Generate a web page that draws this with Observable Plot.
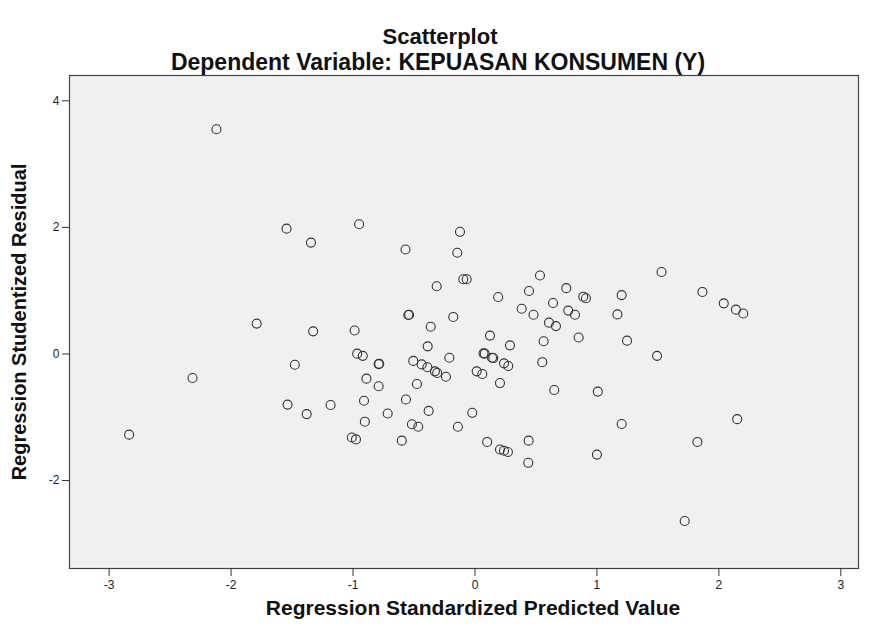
<!DOCTYPE html>
<html>
<head>
<meta charset="utf-8">
<script src="https://cdn.jsdelivr.net/npm/d3@7"></script>
<script src="https://cdn.jsdelivr.net/npm/@observablehq/plot@0.6"></script>
<style>
  html, body { margin: 0; padding: 0; background: #ffffff; }
</style>
</head>
<body>
<div id="chart"></div>
<script>
const titleText = "Scatterplot";
const subtitleText = "Dependent Variable: KEPUASAN KONSUMEN (Y)";
const xLabel = "Regression Standardized Predicted Value";
const yLabel = "Regression Studentized Residual";
const xTicks = [-3, -2, -1, 0, 1, 2, 3];
const yTicks = [-2, 0, 2, 4];

const predicted = [
  -2.12, -1.545, -1.345, -0.95, -0.123, -0.57, -0.145, -0.096, -0.068, -0.314,
  0.533, 0.19, 0.443, 0.749, 0.888, 0.91, 0.64, 0.383, 0.48, 0.765,
  0.82, 0.607, 0.664, 0.85, -0.547, -0.54, -0.178, -0.363, -0.987, 0.123,
  0.287, 0.563, -0.388, -0.966, -0.92, -0.79, -0.785, -0.21, 0.07, 0.08,
  0.14, 0.15, 0.552, -0.506, -0.437, -0.39, -0.328, -0.31, -0.238, 0.238,
  0.273, 0.014, 0.06, -0.89, 0.205, 0.65, -0.79, -0.476, -0.91, -0.566,
  -0.716, -0.38, -0.022, -0.903, -0.517, -0.465, -0.14, -1.01, -0.976, -0.60,
  0.10, 0.44, 0.205, 0.238, 0.27, 0.437, 1.007, 1.0, 1.53, 1.865,
  1.203, 2.04, 2.14, 2.20, 1.168, 1.247, 1.493, 1.203, 2.15, 1.824,
  1.72, -1.79, -1.327, -1.477, -2.316, -1.537, -1.38, -1.184, -2.836
];
const residual = [
  3.55, 1.98, 1.76, 2.05, 1.93, 1.65, 1.60, 1.18, 1.18, 1.07,
  1.24, 0.90, 0.995, 1.04, 0.905, 0.88, 0.805, 0.715, 0.62, 0.685,
  0.62, 0.495, 0.44, 0.26, 0.615, 0.62, 0.585, 0.43, 0.37, 0.29,
  0.136, 0.2, 0.12, 0.005, -0.03, -0.16, -0.155, -0.06, 0.01, 0.005,
  -0.06, -0.065, -0.13, -0.11, -0.165, -0.21, -0.275, -0.30, -0.36, -0.148,
  -0.19, -0.275, -0.316, -0.39, -0.46, -0.57, -0.51, -0.474, -0.74, -0.72,
  -0.94, -0.90, -0.93, -1.07, -1.11, -1.15, -1.15, -1.32, -1.35, -1.37,
  -1.39, -1.37, -1.51, -1.53, -1.55, -1.72, -0.595, -1.59, 1.295, 0.98,
  0.93, 0.80, 0.70, 0.64, 0.625, 0.21, -0.03, -1.106, -1.03, -1.39,
  -2.64, 0.48, 0.357, -0.17, -0.38, -0.80, -0.95, -0.806, -1.275
];

const data = predicted.map((x, i) => ({x, y: residual[i]}));
const fmt = d => String(d);

const chart = Plot.plot({
  width: 869,
  height: 628,
  marginLeft: 69,
  marginRight: 11,
  marginTop: 75,
  marginBottom: 60,
  style: {fontFamily: "'Liberation Sans', Arial, sans-serif", fontSize: "12px", color: "#222", background: "#ffffff"},
  x: {domain: [-3.325, 3.145]},
  y: {domain: [-3.39, 4.40]},
  marks: [
    Plot.frame({fill: "#f0f0f0", stroke: "#444", strokeWidth: 1.2}),
    Plot.axisX({ticks: xTicks, tickFormat: fmt, tickSize: 8, tickPadding: 4, label: null, stroke: "#333", fill: "#222"}),
    Plot.axisY({ticks: yTicks, tickFormat: fmt, tickSize: 7, tickPadding: 3, label: null, stroke: "#333", fill: "#222"}),
    Plot.dot(data, {x: "x", y: "y", r: 4.5, stroke: "#333", strokeWidth: 1.1, fill: "none"}),
    Plot.text([titleText], {frameAnchor: "top", lineAnchor: "middle", textAnchor: "middle", dx: -24, dy: -39, fontSize: 22, fontWeight: "bold", fill: "#111"}),
    Plot.text([subtitleText], {frameAnchor: "top", lineAnchor: "middle", textAnchor: "middle", dx: -26, dy: -13, fontSize: 23, fontWeight: "bold", fill: "#111"}),
    Plot.text([xLabel], {frameAnchor: "bottom", lineAnchor: "middle", textAnchor: "middle", dx: 9, dy: 40, fontSize: 21, fontWeight: "bold", fill: "#111"}),
    Plot.text([yLabel], {frameAnchor: "left", lineAnchor: "middle", textAnchor: "middle", dx: -50, rotate: -90, fontSize: 20, fontWeight: "bold", fill: "#111"})
  ]
});
document.getElementById("chart").appendChild(chart);
</script>
</body>
</html>
